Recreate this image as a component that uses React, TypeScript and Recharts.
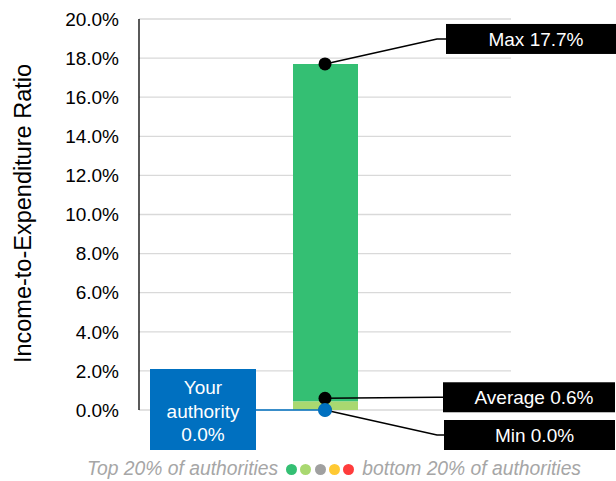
import React from 'react';
import {
  ComposedChart,
  Bar,
  XAxis,
  YAxis,
  CartesianGrid,
  ReferenceDot,
} from 'recharts';

// Distribution of authorities, split into quintile bands (stacked bottom → top)
const category = 'All authorities';
const bandKeys = ['bottom20', 'lower20', 'middle20', 'upper20', 'top20'];
const bandColors = ['#ff3c3c', '#ffc933', '#a0a0a0', '#a9d870', '#34bf73'];
const bandHeights = [0, 0, 0, 0.0045, 0.1725];

const yTicks = [0, 0.02, 0.04, 0.06, 0.08, 0.1, 0.12, 0.14, 0.16, 0.18, 0.2];

const maxValue = 0.177;
const averageValue = 0.006;
const minValue = 0.0;
const yourValue = 0.0;

const legendTop = 'Top 20% of authorities';
const legendBottom = 'bottom 20% of authorities';

const FONT = '"Liberation Sans", Arial, sans-serif';

const pct = (v: number) => `${(v * 100).toFixed(1)}%`;

const chartData = [
  bandKeys.reduce<Record<string, any>>(
    (row, key, i) => {
      row[key] = bandHeights[i];
      return row;
    },
    { name: category }
  ),
];

interface CalloutProps {
  cx?: number;
  cy?: number;
  text: string;
  elbowDx: number;
  dy: number;
  boxLeft: number;
  boxWidth: number;
}

const Callout = ({ cx = 0, cy = 0, text, elbowDx, dy, boxLeft, boxWidth }: CalloutProps) => (
  <g>
    <path
      d={`M${cx},${cy} L${cx + elbowDx},${cy + dy} L${cx + boxLeft},${cy + dy}`}
      stroke="#000"
      strokeWidth={1.5}
      fill="none"
    />
    <rect x={cx + boxLeft} y={cy + dy - 15} width={boxWidth} height={30} fill="#000" />
    <text
      x={cx + boxLeft + boxWidth / 2 + 5}
      y={cy + dy + 7}
      textAnchor="middle"
      fill="#fff"
      fontSize={19}
      fontFamily={FONT}
    >
      {text}
    </text>
    <circle cx={cx} cy={cy} r={6.5} fill="#000" />
  </g>
);

const YourAuthority = ({ cx = 0, cy = 0 }: { cx?: number; cy?: number }) => (
  <g>
    <line x1={cx - 69} y1={cy} x2={cx} y2={cy} stroke="#0070c0" strokeWidth={1.5} />
    <rect x={cx - 175} y={cy - 41} width={106} height={81} fill="#0070c0" />
    <text textAnchor="middle" fill="#fff" fontSize={19} fontFamily={FONT}>
      <tspan x={cx - 122} y={cy - 16}>Your</tspan>
      <tspan x={cx - 122} y={cy + 8}>authority</tspan>
      <tspan x={cx - 122} y={cy + 31}>{pct(yourValue)}</tspan>
    </text>
    <circle cx={cx} cy={cy} r={7} fill="#0070c0" />
  </g>
);

const legendDotColors = [...bandColors].reverse();

export default function App() {
  return (
    <div style={{ position: 'absolute', left: 0, top: 0, width: 616, height: 481, background: '#fff' }}>
      <ComposedChart
        width={616}
        height={481}
        data={chartData}
        margin={{ top: 19, right: 105, bottom: 71, left: 0 }}
      >
        <CartesianGrid horizontal vertical={false} stroke="#d9d9d9" strokeWidth={1.3} />
        <XAxis
          dataKey="name"
          type="category"
          tick={false}
          tickLine={false}
          height={0}
          axisLine={{ stroke: '#8c8c8c', strokeWidth: 1.3 }}
        />
        <YAxis
          width={139}
          domain={[0, 0.2]}
          ticks={yTicks}
          tickFormatter={pct}
          tickLine={false}
          tickSize={8}
          tickMargin={12}
          interval={0}
          axisLine={{ stroke: '#000', strokeWidth: 1.3 }}
          tick={{ fill: '#000', fontSize: 19, fontFamily: FONT }}
          label={{
            content: ({ viewBox }: any) => {
              const cy = viewBox.y + viewBox.height / 2 - 1;
              return (
                <text
                  x={31}
                  y={cy}
                  transform={`rotate(-90, 31, ${cy})`}
                  textAnchor="middle"
                  fill="#000"
                  fontSize={23.5}
                  fontFamily={FONT}
                >
                  Income-to-Expenditure Ratio
                </text>
              );
            },
          }}
        />
        {bandKeys.map((key, i) => (
          <Bar
            key={key}
            dataKey={key}
            stackId="bands"
            fill={bandColors[i]}
            barSize={65}
            isAnimationActive={false}
          />
        ))}
        <ReferenceDot
          x={category}
          y={minValue}
          ifOverflow="visible"
          shape={(p: any) => (
            <Callout cx={p.cx} cy={p.cy} text={`Min ${pct(minValue)}`} elbowDx={112} dy={25} boxLeft={119} boxWidth={171} />
          )}
        />
        <ReferenceDot
          x={category}
          y={averageValue}
          ifOverflow="visible"
          shape={(p: any) => (
            <Callout cx={p.cx} cy={p.cy} text={`Average ${pct(averageValue)}`} elbowDx={112} dy={-1} boxLeft={118} boxWidth={172} />
          )}
        />
        <ReferenceDot
          x={category}
          y={maxValue}
          ifOverflow="visible"
          shape={(p: any) => (
            <Callout cx={p.cx} cy={p.cy} text={`Max ${pct(maxValue)}`} elbowDx={112} dy={-25} boxLeft={121} boxWidth={170} />
          )}
        />
        <ReferenceDot
          x={category}
          y={yourValue}
          ifOverflow="visible"
          shape={(p: any) => <YourAuthority cx={p.cx} cy={p.cy} />}
        />
      </ComposedChart>
      <div
        style={{
          position: 'absolute',
          left: 87,
          top: 456,
          height: 26,
          display: 'flex',
          alignItems: 'center',
          fontFamily: FONT,
          fontStyle: 'italic',
          fontSize: 19.3,
          color: '#a6a6a6',
          whiteSpace: 'nowrap',
        }}
      >
        <span>{legendTop}</span>
        <span style={{ display: 'flex', gap: 3.3, margin: '0 8px', flexShrink: 0 }}>
          {legendDotColors.map((c) => (
            <span
              key={c}
              style={{
                width: 11,
                height: 11,
                flexShrink: 0,
                borderRadius: '50%',
                background: c,
                display: 'inline-block',
              }}
            />
          ))}
        </span>
        <span>{legendBottom}</span>
      </div>
    </div>
  );
}
